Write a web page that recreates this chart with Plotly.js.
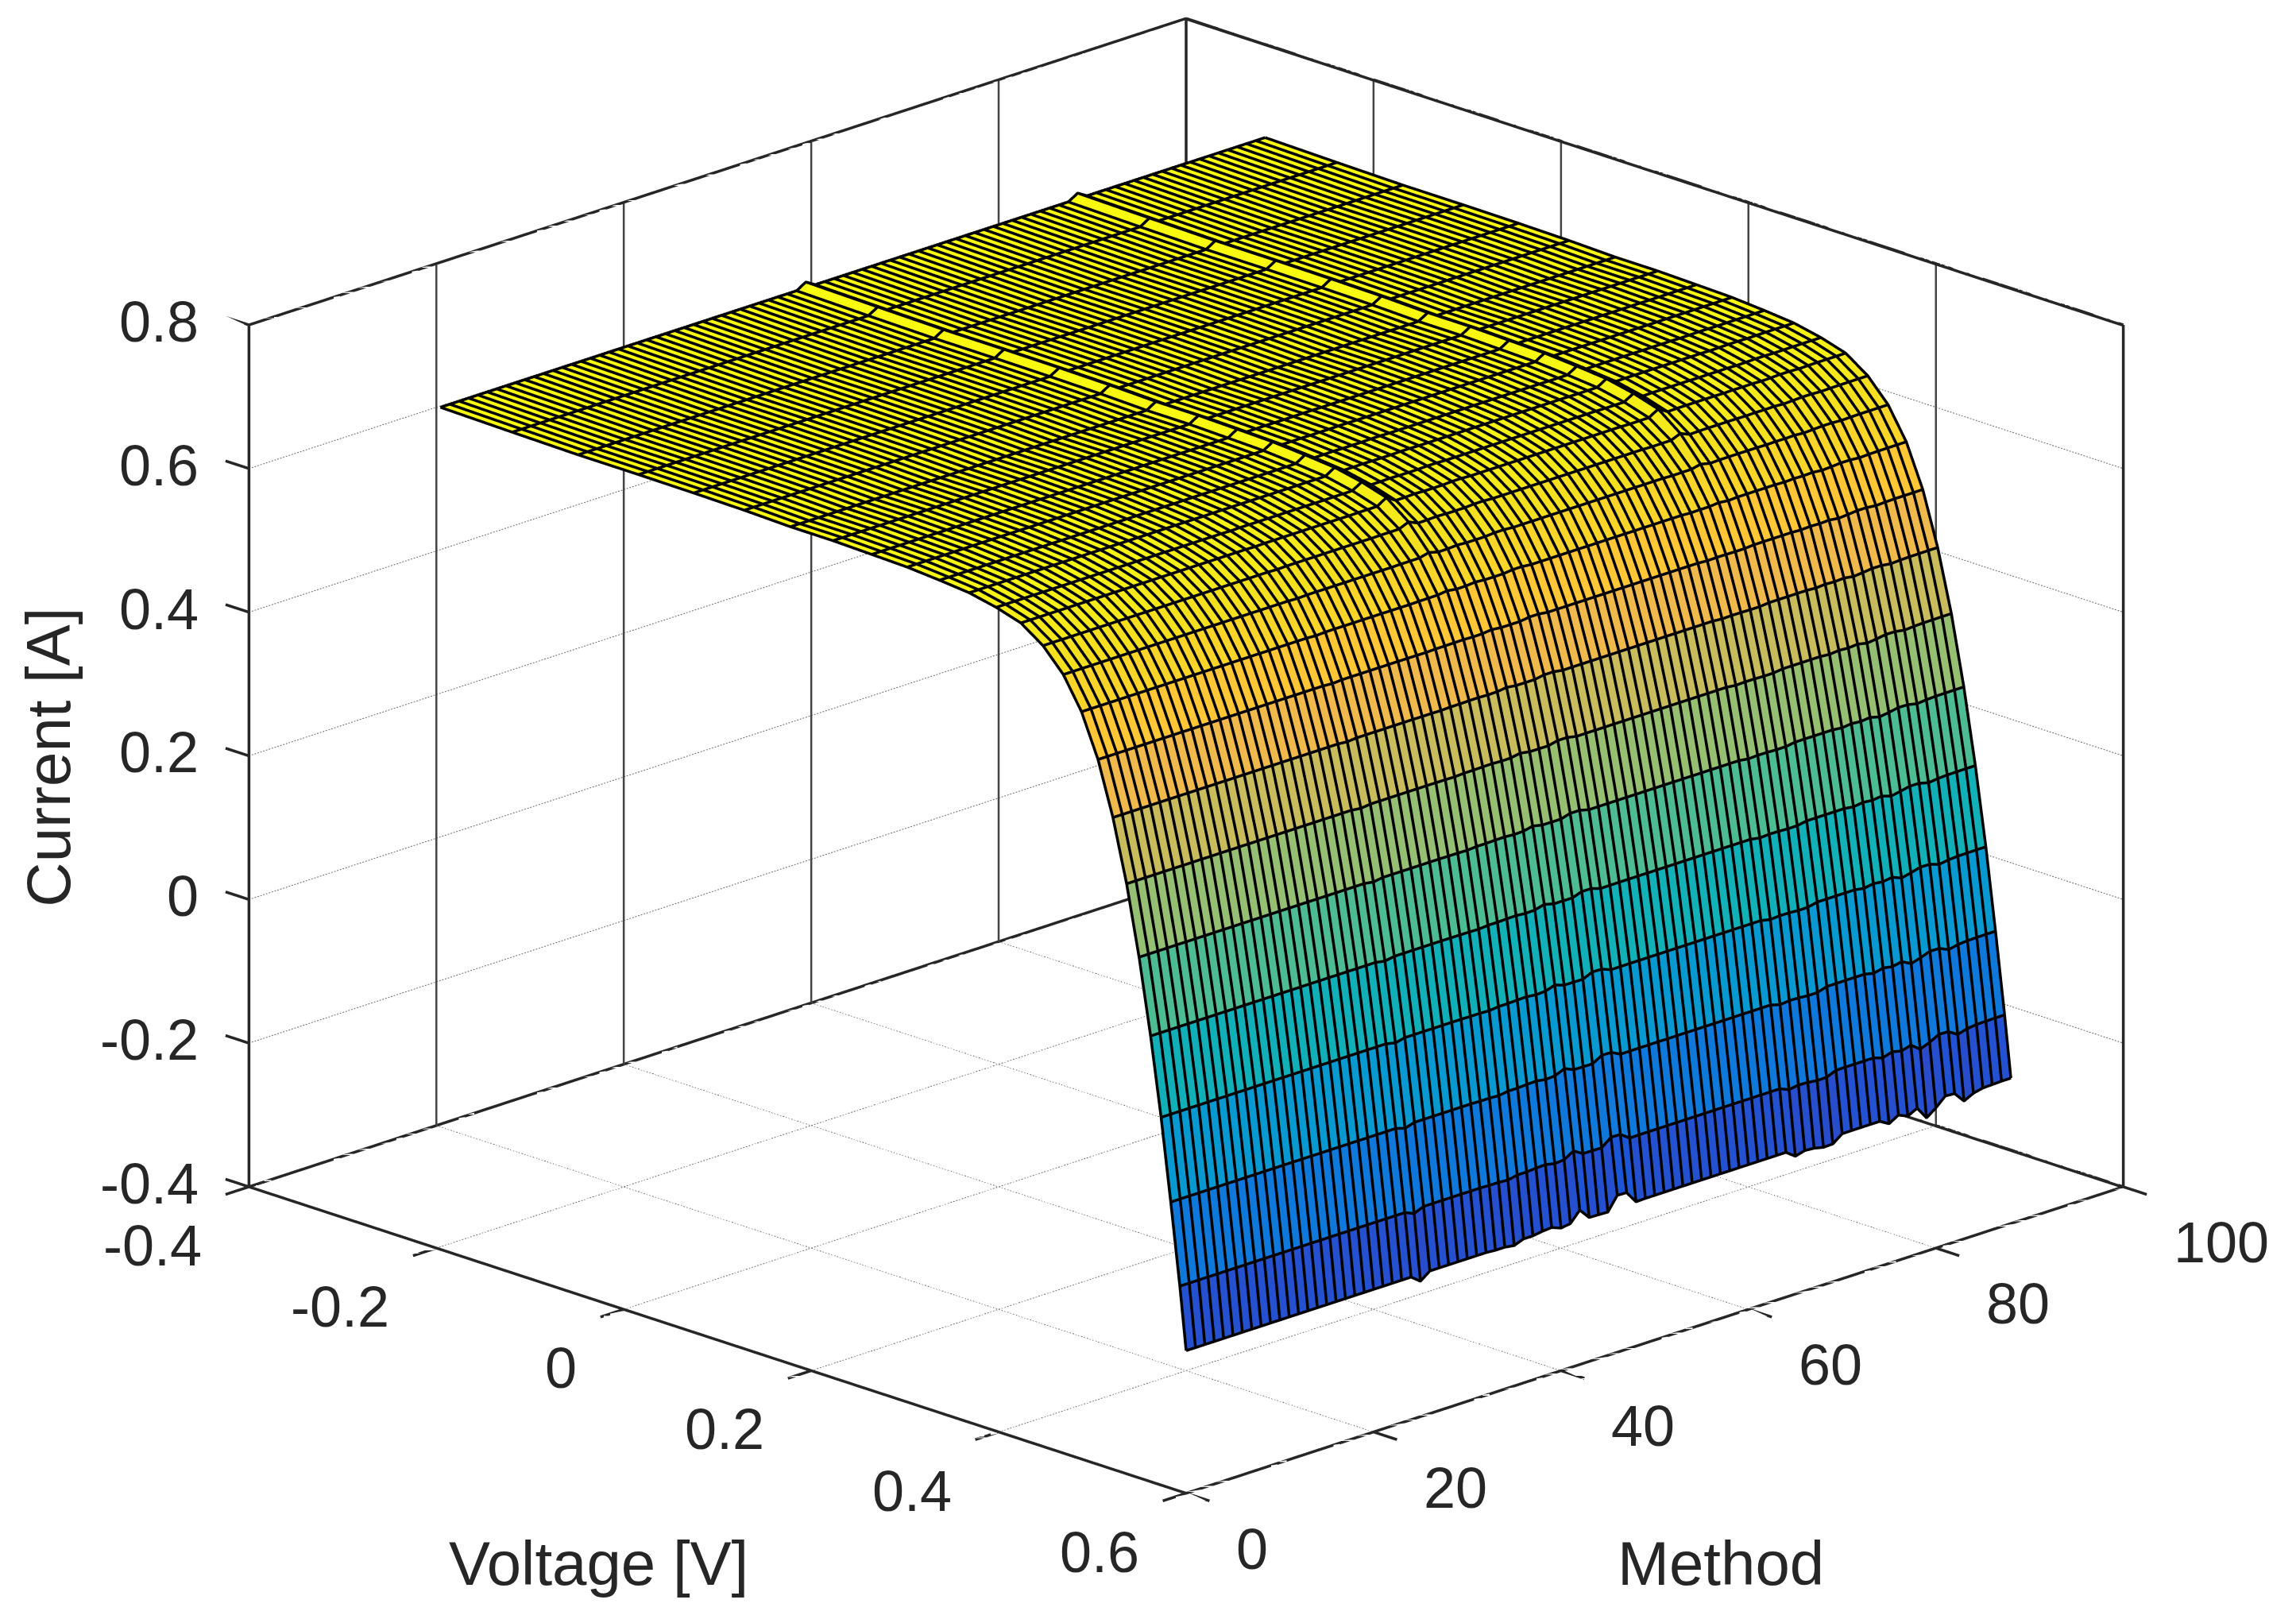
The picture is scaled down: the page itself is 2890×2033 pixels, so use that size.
<!DOCTYPE html>
<html><head><meta charset="utf-8">
<script src="https://cdn.plot.ly/plotly-3.0.1.min.js"></script>
<style>html,body{margin:0;padding:0;background:#fff}</style></head>
<body><div id="plot" style="width:2890px;height:2033px"></div>
<script>
const voltage=[-0.2057,-0.1291,-0.0588,0.0057,0.0646,0.1185,0.1678,0.2132,0.2545,0.2924,0.3269,0.3585,0.3873,0.4137,0.4373,0.4590,0.4784,0.4960,0.5119,0.5265,0.5398,0.5521,0.5633,0.5736,0.5833,0.5900];
const current=[0.7640,0.7620,0.7605,0.7605,0.7600,0.7590,0.7570,0.7570,0.7555,0.7540,0.7505,0.7465,0.7385,0.7280,0.7065,0.6755,0.6320,0.5730,0.4990,0.4130,0.3165,0.2120,0.1035,-0.0100,-0.1230,-0.2100];
const method=[1,2,3,4,5,6,7,8,9,10,11,12,13,14,15,16,17,18,19,20,21,22,23,24,25,26,27,28,29,30,31,32,33,34,35,36,37,38,39,40,41,42,43,44,45,46,47,48,49,50,51,52,53,54,55,56,57,58,59,60,61,62,63,64,65,66,67,68,69,70,71,72,73,74,75,76,77,78,79,80,81,82,83,84,85,86,87,88,89];
// deviation of each method from the common curve at the last voltage, in mA
const edgeDev=[0,0,0,0,0,0,0,0,0,0,0,0,0,0,0,0,0,0,0,0,0,0,0,0,0,-10,0,0,0,0,0,0,0,-1,-1,-3,2,2,4,5,0,2,16.5,2,1.5,1,20,19.5,2.5,3,3,3,3,3,3,3,3,3,3,3,3,3,3,3,3,-6.6,-3,-4,-7,-6.6,3.3,3.5,3.5,3.5,3.5,-4,3.7,-2,4.8,-13,-3.3,9,8,-6.6,0,3,3.5,4,4];
// how much of edgeDev shows at each voltage
const edgeWeight=[0,0,0,0,0,0,0,0,0.01,0.01,0.02,0.02,0.03,0.04,0.05,0.06,0.08,0.1,0.12,0.16,0.2,0.24,0.3,0.4,0.55,1];
// narrow ridge seen across the flat part, mA
const ridgeDev={39:8,68:8};
const ridgeWeight=[1,1,1,1,1,1,1,1,1,1,1,1,1,1,0.7,0.4,0.2,0,0,0,0,0,0,0,0,0];
const xTicks=[-0.4,-0.2,0,0.2,0.4,0.6], yTicks=[0,20,40,60,80,100], zTicks=[-0.4,-0.2,0,0.2,0.4,0.6,0.8];
const xLabels=['-0.4','-0.2','0','0.2','0.4','0.6'], yLabels=['0','20','40','60','80','100'], zLabels=['-0.4','-0.2','0','0.2','0.4','0.6','0.8'];
const parula=[[0.2081,0.1663,0.5292],[0.2116,0.1898,0.5777],[0.2123,0.2138,0.6270],[0.2081,0.2386,0.6771],[0.1959,0.2645,0.7279],[0.1707,0.2919,0.7792],[0.1253,0.3242,0.8303],[0.0591,0.3598,0.8683],[0.0117,0.3875,0.8820],[0.0060,0.4086,0.8828],[0.0165,0.4266,0.8786],[0.0329,0.4430,0.8720],[0.0498,0.4586,0.8641],[0.0629,0.4737,0.8554],[0.0723,0.4887,0.8467],[0.0779,0.5040,0.8384],[0.0793,0.5200,0.8312],[0.0749,0.5375,0.8263],[0.0641,0.5570,0.8240],[0.0488,0.5772,0.8228],[0.0343,0.5966,0.8199],[0.0265,0.6137,0.8135],[0.0239,0.6287,0.8038],[0.0231,0.6418,0.7913],[0.0228,0.6535,0.7768],[0.0267,0.6642,0.7607],[0.0384,0.6743,0.7436],[0.0590,0.6838,0.7254],[0.0843,0.6928,0.7062],[0.1133,0.7015,0.6859],[0.1453,0.7098,0.6646],[0.1801,0.7177,0.6424],[0.2178,0.7250,0.6193],[0.2586,0.7317,0.5954],[0.3022,0.7376,0.5712],[0.3482,0.7424,0.5473],[0.3953,0.7459,0.5244],[0.4420,0.7481,0.5033],[0.4871,0.7491,0.4840],[0.5300,0.7491,0.4661],[0.5709,0.7485,0.4494],[0.6099,0.7473,0.4337],[0.6473,0.7456,0.4188],[0.6834,0.7435,0.4044],[0.7184,0.7411,0.3905],[0.7525,0.7384,0.3768],[0.7858,0.7356,0.3633],[0.8185,0.7327,0.3498],[0.8507,0.7299,0.3360],[0.8824,0.7274,0.3217],[0.9139,0.7258,0.3063],[0.9450,0.7261,0.2886],[0.9739,0.7314,0.2666],[0.9938,0.7455,0.2403],[0.9990,0.7653,0.2164],[0.9955,0.7861,0.1967],[0.9880,0.8066,0.1794],[0.9789,0.8271,0.1633],[0.9697,0.8481,0.1475],[0.9626,0.8705,0.1309],[0.9589,0.8949,0.1132],[0.9598,0.9218,0.0948],[0.9661,0.9514,0.0755],[0.9763,0.9831,0.0538]];

const Z=current.map((c,i)=>method.map((m,j)=>c+(edgeDev[j]*edgeWeight[i]+(ridgeDev[j]||0)*ridgeWeight[i])/1000));
// flat facets: every cell gets four own vertices, coloured by its first corner
const eps=1e-5,sx=[],sy=[],rowOf=[],colOf=[];
for(let i=0;i<voltage.length-1;i++){sx.push(voltage[i],voltage[i+1]-eps);rowOf.push([i,i],[i+1,i]);}
for(let j=0;j<method.length-1;j++){sy.push(method[j],method[j+1]-0.001);colOf.push([j,j],[j+1,j]);}
const sz=colOf.map(c=>rowOf.map(r=>Z[r[0]][c[0]]));
const sc=colOf.map(c=>rowOf.map(r=>Z[r[1]][c[1]]));
const colorscale=parula.map((c,i)=>[i/(parula.length-1),`rgb(${c.map(v=>Math.round(v*255)).join(',')})`]);

const xMin=-0.4,xMax=0.6,yMin=0,yMax=100,zMin=-0.4,zMax=0.8,tx=0.025,ty=2.5;
const aspect={x:1.841,y:1.841,z:1.2066};
const el=19.09*Math.PI/180,r=2.2;
const eye={x:r*Math.cos(el)*Math.SQRT1_2,y:-r*Math.cos(el)*Math.SQRT1_2,z:r*Math.sin(el)};
// slide the wire along the line of sight so that the surface does not bury half its width
const lift=0.016;
const dX=lift*eye.x/r*((xMax-xMin+2*tx)/aspect.x), dY=lift*eye.y/r*((yMax-yMin+2*ty)/aspect.y), dZ=lift*eye.z/r*((zMax-zMin)/aspect.z);
function segs(list){const X=[],Y=[],W=[];list.forEach(s=>{s.forEach(p=>{X.push(p[0]);Y.push(p[1]);W.push(p[2]);});X.push(null);Y.push(null);W.push(null);});return {x:X,y:Y,z:W};}
function along(a,b,n,dutyOn){const out=[];for(let k=0;k<n;k++){const f=k/n,g=(k+dutyOn)/n;out.push([[a[0]+(b[0]-a[0])*f,a[1]+(b[1]-a[1])*f,a[2]+(b[2]-a[2])*f],[a[0]+(b[0]-a[0])*g,a[1]+(b[1]-a[1])*g,a[2]+(b[2]-a[2])*g]]);}return out;}
const wireSegs=[];
voltage.forEach((v,i)=>wireSegs.push(method.map((m,j)=>[v+dX,m+dY,Z[i][j]+dZ])));
method.forEach((m,j)=>wireSegs.push(voltage.map((v,i)=>[v+dX,m+dY,Z[i][j]+dZ])));
const darkSegs=[],dotSegs=[],boxSegs=[];
const nDots=330;
yTicks.slice(1,-1).forEach(y=>{darkSegs.push([[xMin,y,zMin],[xMin,y,zMax]]);dotSegs.push(...along([xMin,y,zMin],[xMax,y,zMin],nDots,0.5));});
xTicks.slice(1,-1).forEach(x=>{darkSegs.push([[x,yMax,zMin],[x,yMax,zMax]]);dotSegs.push(...along([x,yMin,zMin],[x,yMax,zMin],nDots,0.5));});
zTicks.slice(1,-1).forEach(z=>{dotSegs.push(...along([xMin,yMin,z],[xMin,yMax,z],nDots,0.5));dotSegs.push(...along([xMin,yMax,z],[xMax,yMax,z],nDots,0.5));});
const boxEdges=[[[xMin,yMin,zMin],[xMax,yMin,zMin]],[[xMax,yMin,zMin],[xMax,yMax,zMin]],[[xMax,yMax,zMin],[xMin,yMax,zMin]],[[xMin,yMax,zMin],[xMin,yMin,zMin]],
 [[xMin,yMin,zMax],[xMin,yMax,zMax]],[[xMin,yMax,zMax],[xMax,yMax,zMax]],
 [[xMin,yMin,zMax],[xMin,yMin,zMin]],[[xMin,yMax,zMin],[xMin,yMax,zMax]],[[xMax,yMax,zMin],[xMax,yMax,zMax]]];
boxEdges.forEach(s=>boxSegs.push(...along(s[0],s[1],60,1)));
zTicks.forEach(z=>boxSegs.push([[xMin,yMin,z],[xMin-tx,yMin,z]]));
xTicks.forEach(x=>boxSegs.push([[x,yMin,zMin],[x,yMin-ty,zMin]]));
yTicks.forEach(y=>boxSegs.push([[xMax,y,zMin],[xMax+tx,y,zMin]]));
// the line shader leaves small periodic gaps along arc length: a second pass in the other order fills them
const flip=list=>list.slice().reverse().map(s=>s.slice().reverse());
// the two back edges running along voltage are drawn once more with another segmentation, just inside the wall
const backEdges=[[[xMin,yMax-0.08,zMax],[xMax,yMax-0.08,zMax]],[[xMin,yMax-0.08,zMin],[xMax,yMax-0.08,zMin]]];
const backSegs=[];backEdges.forEach(s=>backSegs.push(...along(s[0],s[1],37,1)));

const font={family:'"Liberation Sans",Arial,sans-serif',size:72,color:'#262626'};
const tfont={family:'"Liberation Sans",Arial,sans-serif',size:78,color:'#262626'};
const ann=[];
zTicks.forEach((z,i)=>ann.push({x:xMin,y:yMin,z:z,text:zLabels[i],showarrow:false,xanchor:'right',yanchor:'middle',xshift:-61,yshift:4,font}));
xTicks.forEach((x,i)=>ann.push({x:x,y:yMin,z:zMin,text:xLabels[i],showarrow:false,xanchor:'right',yanchor:'middle',xshift:-57,yshift:-74,font}));
yTicks.forEach((y,i)=>ann.push({x:xMax,y:y,z:zMin,text:yLabels[i],showarrow:false,xanchor:'left',yanchor:'middle',xshift:61,yshift:-70,font}));

const hidden={showgrid:false,zeroline:false,showline:false,showticklabels:false,ticks:'',showbackground:false,showspikes:false,autorange:false,title:{text:''}};
const line=(s,color,width)=>Object.assign({type:'scatter3d',mode:'lines',hoverinfo:'skip',showlegend:false,connectgaps:false,line:{color,width}},segs(s));
const data=[
 {type:'surface',x:sx,y:sy,z:sz,surfacecolor:sc,cmin:-0.21,cmax:0.764,colorscale,showscale:false,hoverinfo:'skip',
  lighting:{ambient:1,diffuse:0,specular:0,roughness:1,fresnel:0},contours:{x:{show:false},y:{show:false},z:{show:false}}},
 line(wireSegs,'#000000',7),
 line(flip(wireSegs),'#000000',7),
 line(darkSegs,'#444444',5),
 line(dotSegs,'#666666',2),
 line(boxSegs,'#262626',7),
 line(flip(boxSegs),'#262626',7),
 line(backSegs,'#262626',7),
 line(flip(backSegs),'#262626',7)
];
boxEdges.forEach(s=>data.push(line([s],'#262626',7)));
backEdges.forEach(s=>data.push(line([s],'#262626',7)));
const layout={width:2890,height:2033,margin:{l:0,r:0,t:0,b:0},paper_bgcolor:'#fff',showlegend:false,
 scene:{domain:{x:[0.0332,1],y:[0.064,1]},bgcolor:'#fff',
  xaxis:Object.assign({range:[xMin-tx,xMax+tx]},hidden),
  yaxis:Object.assign({range:[yMin-ty,yMax+ty]},hidden),
  zaxis:Object.assign({range:[zMin,zMax]},hidden),
  aspectmode:'manual',aspectratio:aspect,
  camera:{projection:{type:'orthographic'},up:{x:0,y:0,z:1},center:{x:0,y:0,z:0},eye},
  annotations:ann},
 annotations:[
  {xref:'paper',yref:'paper',x:33*1.843/2890,y:1-517*1.843/2033,text:'Current [A]',textangle:-90,showarrow:false,xanchor:'center',yanchor:'middle',font:tfont},
  {xref:'paper',yref:'paper',x:409*1.843/2890,y:1-1068*1.843/2033,text:'Voltage [V]',showarrow:false,xanchor:'center',yanchor:'middle',font:tfont},
  {xref:'paper',yref:'paper',x:1175*1.843/2890,y:1-1068*1.843/2033,text:'Method',showarrow:false,xanchor:'center',yanchor:'middle',font:tfont}
 ]};
Plotly.newPlot('plot',data,layout,{displayModeBar:false});
</script></body></html>
